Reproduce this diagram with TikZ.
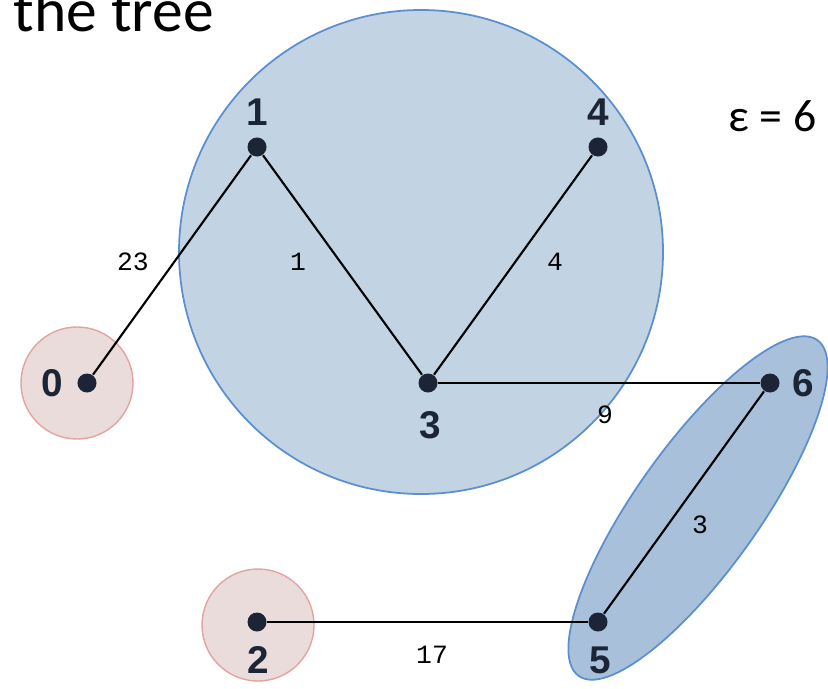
\documentclass[tikz,border=0pt]{standalone}
\usepackage{fontspec}
\setmainfont{Carlito}
\newfontfamily\numfont{Liberation Sans}
\newfontfamily\wtfont{Liberation Mono}
\definecolor{blobblue}{HTML}{C2D3E4}
\definecolor{blobedge}{HTML}{5B8FCF}
\definecolor{pairblue}{HTML}{A9C0DA}
\definecolor{redfill}{HTML}{EBDCDC}
\definecolor{rededge}{HTML}{E3A3A0}
\definecolor{vtx}{HTML}{1B2536}

\begin{document}
\begin{tikzpicture}[x=0.01cm,y=-0.01cm,
    vertex/.style={circle,fill=vtx,inner sep=0pt,minimum size=0.19cm},
    vlabel/.style={font=\numfont\bfseries\fontsize{11}{13}\selectfont,text=vtx,inner sep=0pt},
    wlabel/.style={font=\wtfont\fontsize{7.5}{9}\selectfont,inner sep=0pt},
    link/.style={line width=0.6pt}]
      \useasboundingbox (0,0) rectangle (828,688);
      % clusters
      \filldraw[fill=redfill,draw=rededge,line width=0.4pt] (77,383) circle [radius=56];
      \filldraw[fill=redfill,draw=rededge,line width=0.4pt] (258,625) circle [radius=56];
      \filldraw[fill=blobblue,draw=blobedge,line width=0.5pt] (421,252) circle [radius=242];
      \filldraw[fill=pairblue,draw=blobedge,line width=0.5pt,rotate around={54.6:(698,508)}]
        (698,508) ellipse [x radius=206,y radius=62];
      % vertices and their numbers
      \foreach \n/\x/\y/\lx/\ly in {0/87/383/52/383, 1/257/147/257/112, 2/257/622/258/660,
                                  3/428/383/430/425, 4/598/147/598/112, 5/598/622/600/660,
                                  6/770/383/803/383} {
        \node[vertex] (n\n) at (\x,\y) {};
        \node[vlabel] (l\n) at (\lx,\ly) {\n};
      }
      \foreach \a/\b in {n0/n1, n1/n3, n3/n4, n3/n6, n6/n5, n5/n2}
        \draw[link] (\a) -- (\b);
      % weights
      \foreach \e/\x/\y/\w in {w01/133/262/23, w13/298/262/1, w34/555/262/4,
                              w36/605/415/9, w56/700/525/3, w25/432/655/17}
        \node[wlabel] (\e) at (\x,\y) {\w};
      \node[anchor=base west,inner sep=0pt,font=\fontsize{17.5}{20}\selectfont] (title) at (13,32) {the tree};
      \node[anchor=base west,inner sep=0pt,font=\fontsize{13}{15}\selectfont] (eps) at (728,132) {ε = 6};
    \end{tikzpicture}
\end{document}
